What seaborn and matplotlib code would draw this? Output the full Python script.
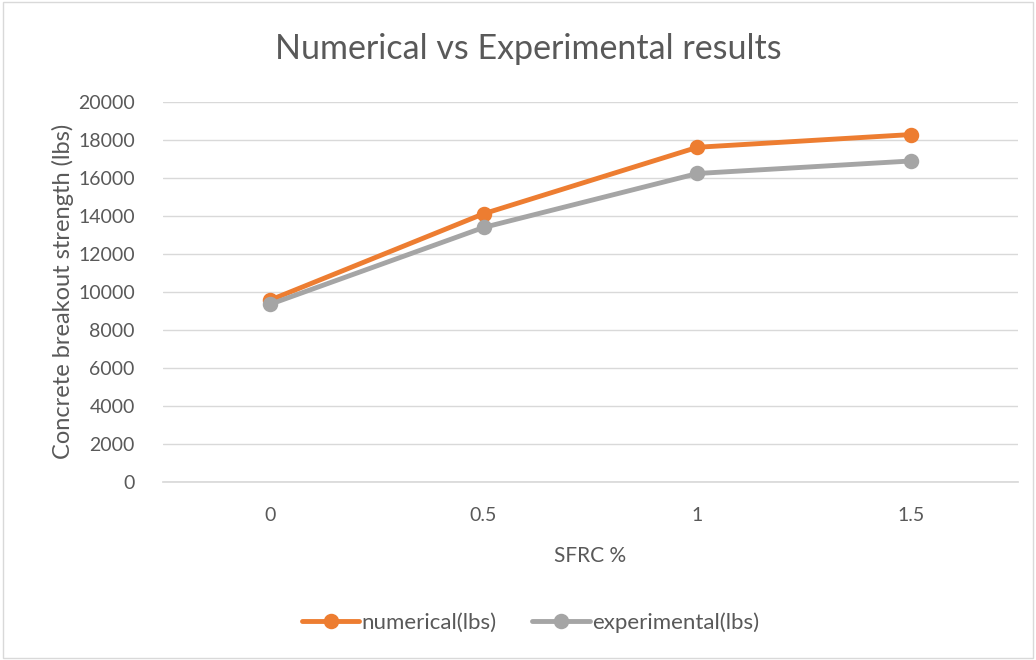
import matplotlib
matplotlib.use("Agg")
import matplotlib.pyplot as plt
import seaborn as sns
import pandas as pd

# SFRC content (%) and breakout strength (lbs)
sfrc = ["0", "0.5", "1", "1.5"]
numerical = [9550, 14100, 17600, 18270]
experimental = [9330, 13380, 16220, 16880]
series_names = ["numerical(lbs)", "experimental(lbs)"]
colors = ["#ED7D31", "#A5A5A5"]

df = pd.DataFrame({
    "SFRC %": sfrc * 2,
    "strength": numerical + experimental,
    "series": [series_names[0]] * len(sfrc) + [series_names[1]] * len(sfrc),
})

sns.set_theme(style="white")
plt.rcParams["font.family"] = ["Lato", "DejaVu Sans"]
text_color = "#595959"

fig = plt.figure(figsize=(10.36, 6.6), dpi=100)
ax = fig.add_axes([0.157, 0.270, 0.826, 0.576])

sns.pointplot(
    data=df, x="SFRC %", y="strength", hue="series",
    palette=colors, order=sfrc, hue_order=series_names,
    markers="o", linestyles="-", markersize=8.5, linewidth=3.5,
    errorbar=None, ax=ax, legend=True,
)

ax.set_xlim(-0.5, len(sfrc) - 0.5)
ax.set_ylim(0, 20000)
ax.set_yticks(range(0, 20001, 2000))
ax.yaxis.grid(True, color="#D9D9D9", linewidth=1)
ax.set_axisbelow(True)
for side in ["top", "right", "left"]:
    ax.spines[side].set_visible(False)
ax.spines["bottom"].set_color("#D9D9D9")
ax.tick_params(axis="both", length=0, labelsize=14, colors=text_color)
ax.tick_params(axis="y", pad=20)
ax.tick_params(axis="x", pad=18)

ax.set_xlabel("SFRC %", fontsize=15, color=text_color, labelpad=16)
ax.set_ylabel("Concrete breakout strength (lbs)", fontsize=17, color=text_color, labelpad=3)
fig.suptitle("Numerical vs Experimental results", fontsize=24.5, color=text_color,
             y=0.95, x=0.51)

leg = ax.legend(
    loc="upper center", bbox_to_anchor=(0.43, -0.29), ncol=2, frameon=False,
    fontsize=16, handlelength=2.6, handletextpad=0.1, columnspacing=1.6,
)
for txt in leg.get_texts():
    txt.set_color(text_color)

# outer chart border
fig.patches.append(plt.Rectangle((0.003, 0.003), 0.994, 0.994, transform=fig.transFigure,
                                 fill=False, edgecolor="#D9D9D9", linewidth=1))

fig.savefig("out.png", dpi=100)
